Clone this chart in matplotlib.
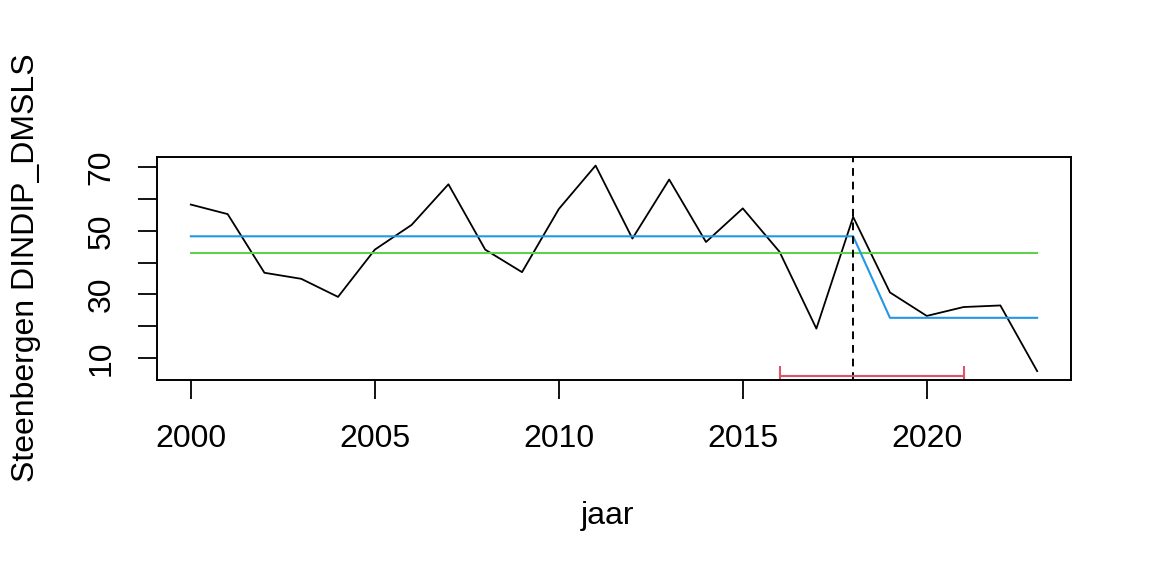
import matplotlib
matplotlib.use("Agg")
import matplotlib.pyplot as plt
import numpy as np

plt.rcParams['font.family'] = ['Liberation Sans', 'DejaVu Sans']

# Data
jaar = np.arange(2000, 2024)
waarde = [58.3, 55.3, 36.8, 34.9, 29.2, 44.1, 51.9, 64.7, 44.1, 37.0,
          56.9, 70.6, 47.6, 66.2, 46.5, 57.1, 43.4, 19.2, 54.4, 30.6,
          23.2, 26.0, 26.5, 5.8]
gemiddelde = 43.0          # green: overall mean
stap_jaren = [2000, 2018, 2019, 2023]
stap_waarden = [48.3, 48.3, 22.6, 22.6]   # blue: step model
breuk_jaar = 2018
interval = [2016, 2021]
interval_y = 4.2

fig = plt.figure(figsize=(11.52, 5.76), dpi=100)
ax = fig.add_axes([157/1152, 1-380/576, (1071-157)/1152, (380-157)/576])

ax.plot(jaar, waarde, color='black', lw=1.3)
ax.plot([jaar[0], jaar[-1]], [gemiddelde, gemiddelde], color='#61D04F', lw=1.5)
ax.plot(stap_jaren, stap_waarden, color='#2297E6', lw=1.5)
ax.axvline(breuk_jaar, color='black', lw=1.4, linestyle=(0, (4, 3)))
ax.errorbar(np.mean(interval), interval_y, xerr=[[np.mean(interval)-interval[0]], [interval[1]-np.mean(interval)]],
            color='#DF536B', lw=1.5, capsize=7, capthick=1.5, fmt='none')

ax.set_xlim(1999.08, 2023.92)
ax.set_ylim(3.0, 73.3)
ax.set_xticks([2000, 2005, 2010, 2015, 2020])
ax.set_yticks([10, 20, 30, 40, 50, 60, 70])
ax.set_yticklabels(['10', '', '30', '', '50', '', '70'], rotation=90, va='center')
ax.tick_params(length=14, width=1.3, labelsize=23)
ax.tick_params(axis='x', pad=18)
ax.tick_params(axis='y', pad=15)
for s in ax.spines.values():
    s.set_linewidth(1.4)

fig.text(608/1152, 1-516/576, 'jaar', ha='center', va='center', fontsize=23)
fig.text(26/1152, 1-268/576, 'Steenbergen DINDIP_DMSLS', rotation=90,
         ha='center', va='center', fontsize=23)

fig.savefig('out.png', dpi=100)
